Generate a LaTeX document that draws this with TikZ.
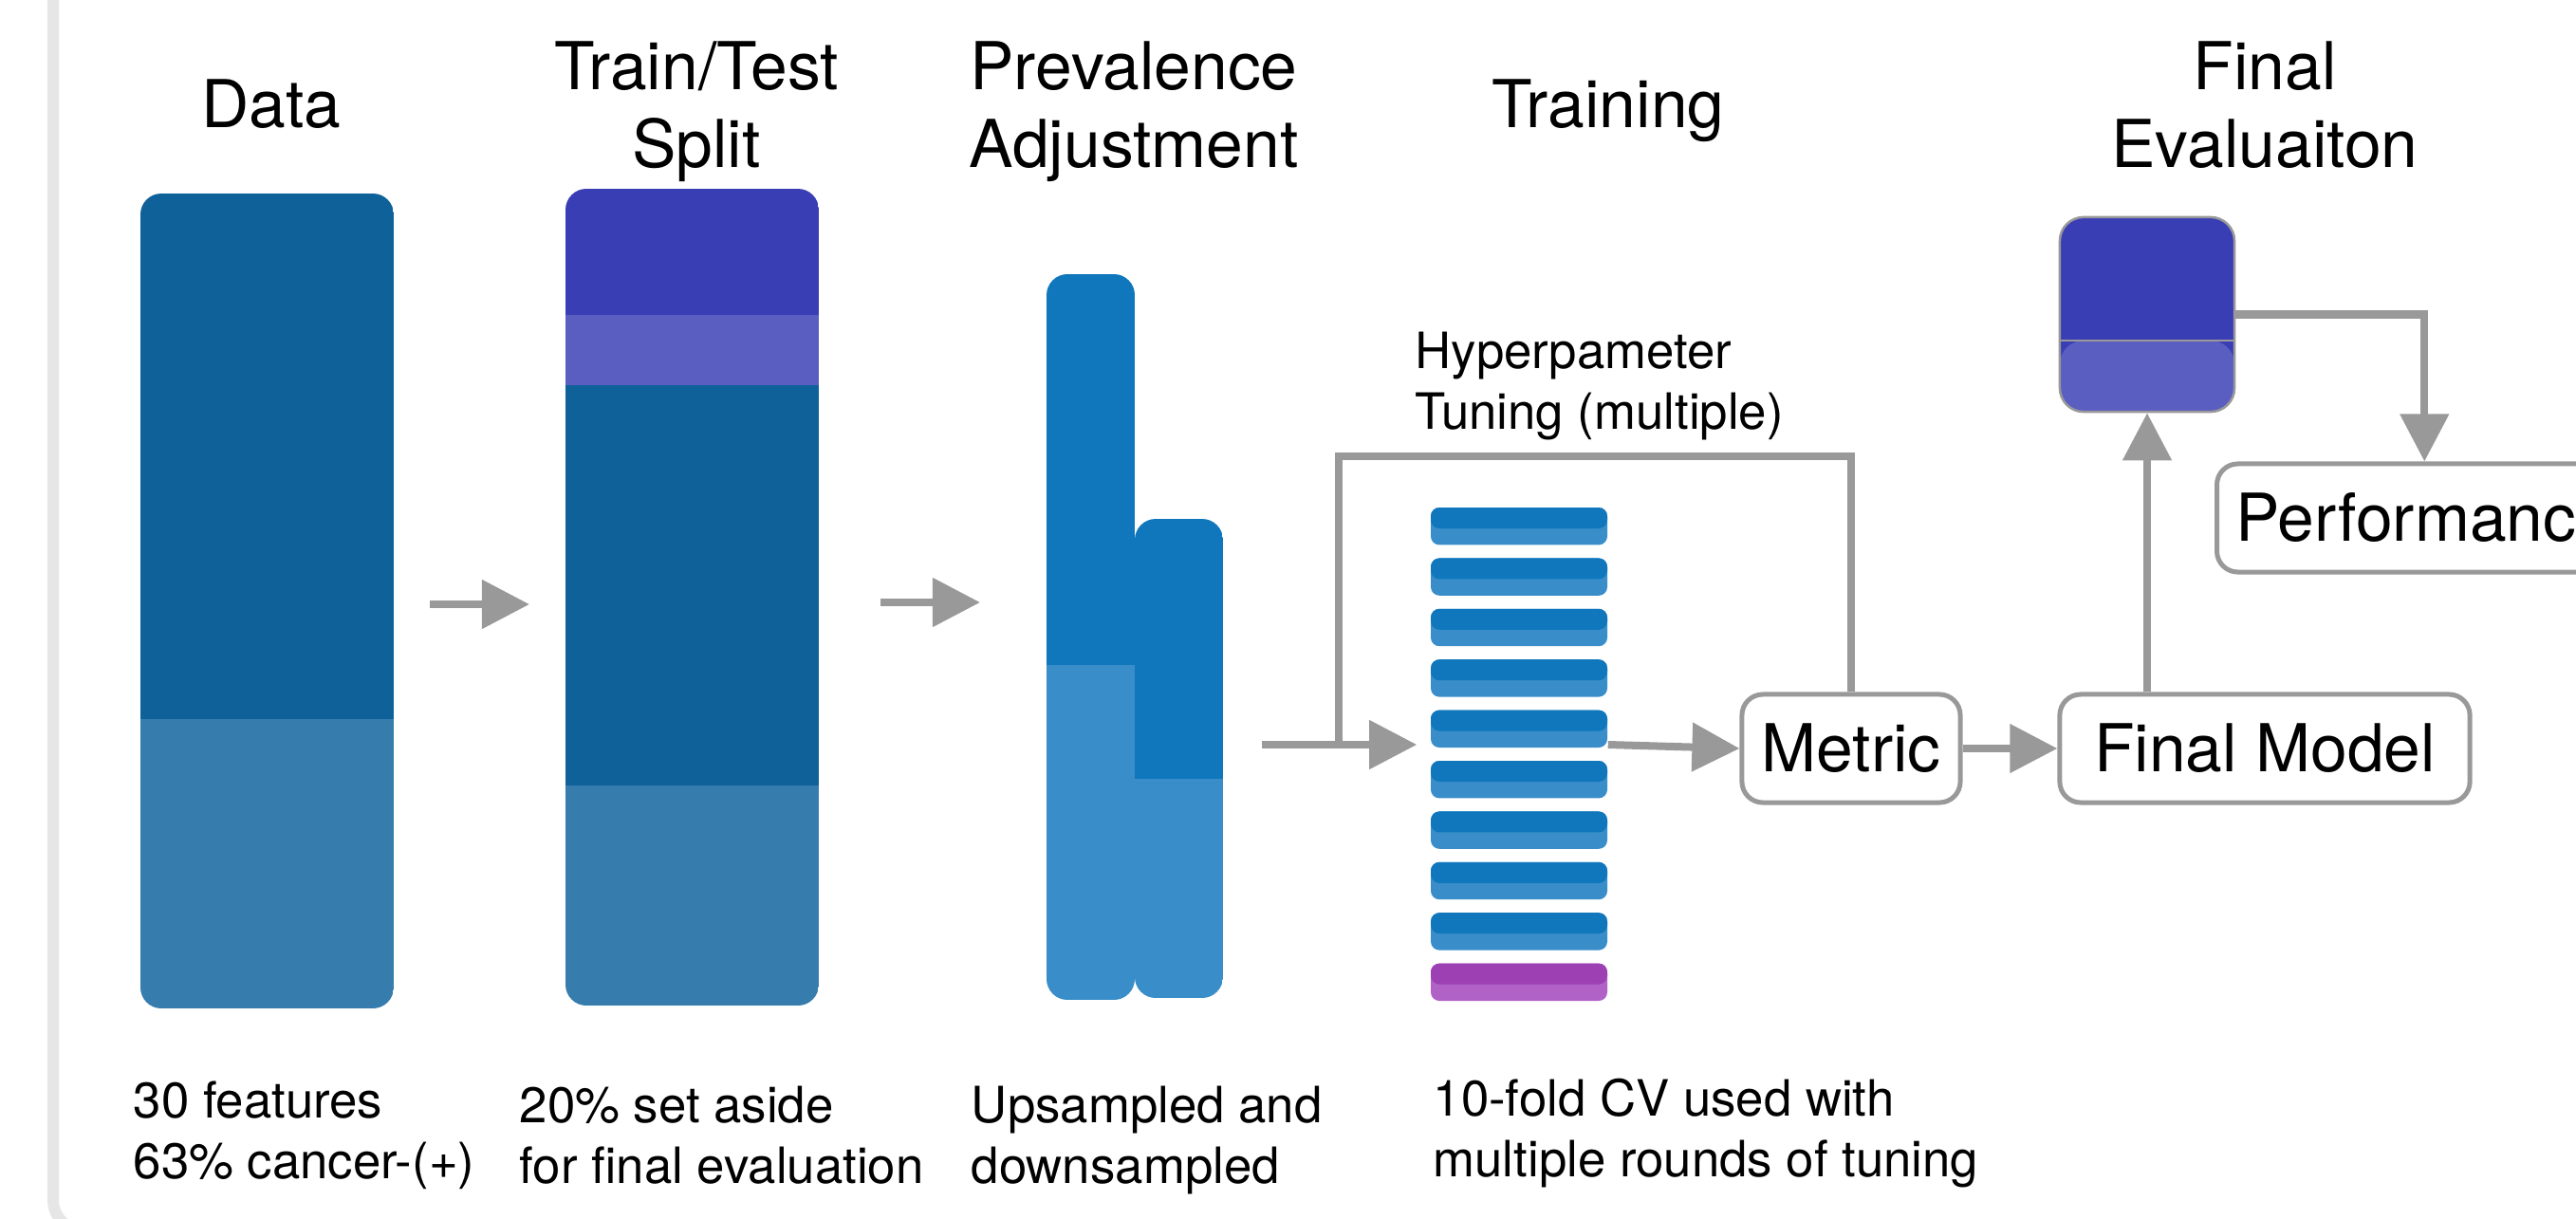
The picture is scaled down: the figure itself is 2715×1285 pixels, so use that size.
\documentclass[tikz,border=0pt]{standalone}
\usepackage{fontspec}
\setmainfont{TeX Gyre Heros}
\usepackage{xcolor}
\usepackage{tikz}
\usetikzlibrary{arrows.meta,positioning}
\definecolor{datadark}{RGB}{15,97,153}
\definecolor{datalight}{RGB}{54,125,174}
\definecolor{testdark}{RGB}{58,62,181}
\definecolor{testlight}{RGB}{91,94,193}
\definecolor{foldpos}{RGB}{16,119,189}
\definecolor{foldneg}{RGB}{57,141,200}
\definecolor{holddark}{RGB}{156,64,180}
\definecolor{holdlight}{RGB}{176,98,198}
\definecolor{flowgray}{RGB}{153,153,153}
\definecolor{framegray}{RGB}{230,230,230}
\newcommand{\splitbar}[7]{%   x from #1 to #3, y from #2 to #4, colour change at #5
  \begin{scope}
  \clip[rounded corners=0.22cm] (#1,#2) rectangle (#3,#4);
  \fill[#6] (#1,#2) rectangle (#3,#5);
  \fill[#7] (#1,#5) rectangle (#3,#4);
  \end{scope}}
\newcommand{\cvfold}[3]{%   one fold of the CV stack, #1 = index from the top
  \pgfmathsetmacro{\foldy}{535+53.4*#1}
  \fill[#3, rounded corners=0.09cm] (1508,\foldy) rectangle (1694,\foldy+39.4);
  \fill[#2, rounded corners=0.09cm] (1508,\foldy) rectangle (1694,\foldy+22);}

\begin{document}
\begin{tikzpicture}[x=0.01cm, y=-0.01cm,
    head/.style={font=\fontsize{19.8}{23.3}\selectfont, align=center, inner sep=0},
    note/.style={font=\fontsize{15}{18.2}\selectfont, align=left, inner sep=0, anchor=north west},
    stepbox/.style={draw=flowgray, line width=0.05cm, rounded corners=0.22cm, fill=white,
      font=\fontsize{19.8}{23.3}\selectfont, minimum height=1.14cm, inner xsep=0.2cm},
    evalbox/.style={draw=flowgray, line width=0.025cm, rounded corners=0.25cm, fill=testdark,
      minimum width=1.84cm, minimum height=2.05cm, inner sep=0,
      path picture={\fill[testlight] ([yshift=-1.30cm]path picture bounding box.north west)
        rectangle (path picture bounding box.south east);
        \draw[flowgray, line width=0.025cm] ([yshift=-1.30cm]path picture bounding box.north west)
        -- ([yshift=-1.30cm]path picture bounding box.north east);}},
    flow/.style={draw=flowgray, line width=0.08cm, -{Triangle[length=0.5cm,width=0.5cm]}},
    loopline/.style={draw=flowgray, line width=0.08cm}]

\useasboundingbox (0,0) rectangle (2715,1285);
\clip (0,0) rectangle (2715,1285);
\draw[framegray, line width=0.12cm, rounded corners=0.32cm] (56,-100) rectangle (3000,1297);

% ---- headings
\node[head, anchor=base] (hdata) at (286,135) {Data};
\node[head, anchor=north] (hsplit) at (734,43) {Train/Test\\Split};
\node[head, anchor=north] (hprev) at (1195,43) {Prevalence\\Adjustment};
\node[head, anchor=base] (htrain) at (1695,135) {Training};
\node[head, anchor=north] (heval) at (2387,43) {Final\\Evaluaiton};

% ---- data
\splitbar{148}{204}{415}{1063}{758}{datadark}{datalight}

% ---- train/test split
\begin{scope}
\clip[rounded corners=0.22cm] (596,199) rectangle (863,1060);
\fill[testdark] (596,199) rectangle (863,332);
\fill[testlight] (596,332) rectangle (863,406);
\fill[datadark] (596,406) rectangle (863,828);
\fill[datalight] (596,828) rectangle (863,1060);
\end{scope}

% ---- prevalence adjustment
\splitbar{1103}{289}{1196}{1054}{701}{foldpos}{foldneg}
\splitbar{1196}{547}{1289}{1052}{821}{foldpos}{foldneg}

% ---- training: nine folds and the held-out one
\foreach \i in {0,...,8}{\cvfold{\i}{foldpos}{foldneg}}
\cvfold{9}{holddark}{holdlight}
\node[inner sep=0, minimum width=1.86cm, minimum height=5.2cm] (folds) at (1601,795) {};

% ---- boxes
\node[stepbox, minimum width=2.30cm] (metric) at (1951,789) {Metric};
\node[stepbox, minimum width=4.32cm] (finalmodel) at (2387,789) {Final Model};
\node[stepbox, anchor=west] (perf) at (2334,546) {Performance};
\node[evalbox] (finaleval) at (2263,331.5) {};

% ---- connectors
\coordinate (dataout) at (453,637);
\coordinate (splitin) at (558,637);
\coordinate (splitout) at (928,635);
\coordinate (previn) at (1033,635);
\coordinate (cvstart) at (1330,785);
\coordinate (tunetop) at (1411,481);
\coordinate (tunedown) at (1411,785);
\draw[flow] (dataout) -- (splitin);
\draw[flow] (splitout) -- (previn);
\draw[flow, shorten >=0.14cm] (cvstart) -- (folds.west |- cvstart);
\draw[loopline] (metric.north) |- (tunetop) -- (tunedown);
\draw[flow] (folds.east |- cvstart) -- (metric.west);
\draw[flow] (metric) -- (finalmodel);
\draw[flow] (finalmodel.north -| finaleval) -- (finaleval.south);
\draw[flow] (finaleval.east) -| (perf.north);

% ---- notes
\node[note] (ctune) at (1491,349) {Hyperpameter\\Tuning (multiple)};
\node[note] (cdata) at (140,1139) {30 features\\63\% cancer-(+)};
\node[note] (csplit) at (547,1144) {20\% set aside\\for final evaluation};
\node[note] (cprev) at (1023,1144) {Upsampled and\\downsampled};
\node[note] (ctrain) at (1510,1136) {10-fold CV used with\\multiple rounds of tuning};
\end{tikzpicture}
\end{document}
